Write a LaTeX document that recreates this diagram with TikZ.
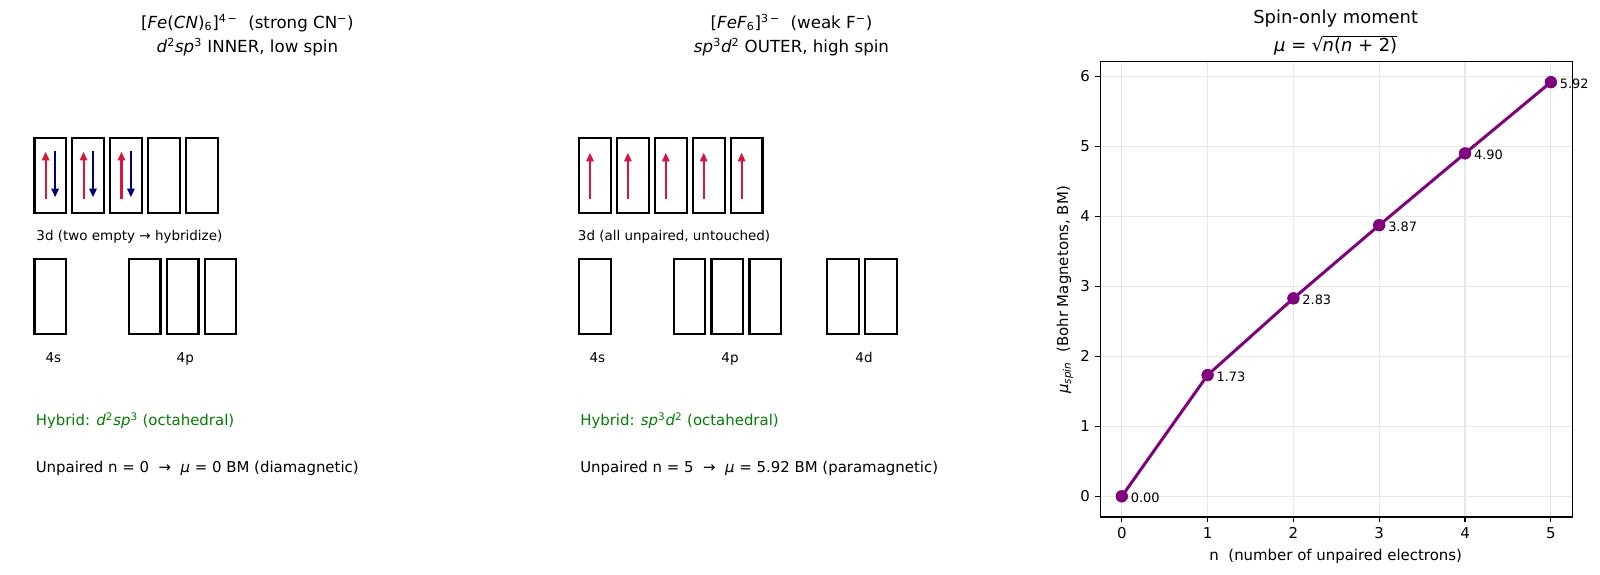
\documentclass[tikz,border=0pt]{standalone}
\usepackage{fontspec}
\setmainfont{DejaVu Sans}
\usetikzlibrary{arrows.meta, positioning, calc}
\definecolor{upred}{RGB}{220,20,60}
\definecolor{downblue}{RGB}{0,0,128}
\definecolor{hybgreen}{RGB}{0,128,0}
\definecolor{momcol}{RGB}{128,0,128}
\definecolor{gridcol}{RGB}{231,231,231}
\newcommand{\vv}[1]{\textit{#1}}

\begin{document}
\begin{tikzpicture}[x=0.72pt, y=-0.72pt, >={Triangle[length=6.3pt, width=5.3pt]},
  orb/.style={draw, line width=1.6pt, inner sep=0pt, minimum width=22.8pt, minimum height=54pt},
  spinup/.style={->, upred, line width=1.5pt},
  spindn/.style={->, downblue, line width=1.5pt},
  ttl/.style={anchor=base, inner sep=0pt, font=\fontsize{12}{14}\selectfont},
  bigttl/.style={ttl, font=\fontsize{12.9}{14}\selectfont},
  sub/.style={anchor=base, inner sep=0pt, font=\fontsize{9.7}{11}\selectfont},
  info/.style={anchor=base west, inner sep=0pt, font=\fontsize{10.75}{12}\selectfont},
  tick/.style={inner sep=0pt, font=\fontsize{10.75}{12}\selectfont},
  val/.style={anchor=base west, inner sep=0pt, font=\fontsize{9.3}{11}\selectfont},
  dot/.style={circle, fill=momcol, inner sep=0pt, minimum size=8.7pt}]
  \useasboundingbox (0,0) rectangle (1600,574);

  % left panel: low spin
  \node[ttl] (lt1) at (247.4,28.3) {[\vv{Fe}(\vv{CN})\textsubscript{6}]\textsuperscript{4\,−}\ \ (strong CN\textsuperscript{−})};
  \node[ttl] (lt2) at (247.4,52.7) {\vv{d}\textsuperscript{2}\vv{sp}\textsuperscript{3} INNER, low spin};
  \foreach \i in {0,...,4} {
    \node[orb] (ld\i) at (50.25+37.9*\i,175.2) {};
  }
  \foreach \i in {0,1,2} {
    \coordinate (lu\i) at ([xshift=-3.3pt, yshift=-17.1pt]ld\i.center);
    \coordinate (lv\i) at ([xshift=-3.3pt, yshift=16.9pt]ld\i.center);
    \coordinate (lw\i) at ([xshift=3.5pt, yshift=17.6pt]ld\i.center);
    \coordinate (lx\i) at ([xshift=3.5pt, yshift=-15.9pt]ld\i.center);
    \draw[spinup] (lu\i) -- (lv\i);
    \draw[spindn] (lw\i) -- (lx\i);
  }
  \node[sub, anchor=base west] (l3d) at (36.2,240.7) {3d (two empty → hybridize)};
  \node[orb] (ls) at (50.25,296.7) {};
  \foreach \i in {0,1,2} {
    \node[orb] (lp\i) at (144.7+37.9*\i,296.7) {};
  }
  \node[sub] (l4s) at (53.4,362.3) {4s};
  \node[sub] (l4p) at (185.3,362.3) {4p};
  \node[info, text=hybgreen] (lhyb) at (35.5,425.7) {Hybrid: \vv{d}\textsuperscript{2}\vv{sp}\textsuperscript{3} (octahedral)};
  \node[info] (lmu) at (35.5,472.3) {Unpaired n = 0 \ → \ \vv{μ} = 0 BM (diamagnetic)};

  % middle panel: high spin
  \node[ttl] (rt1) at (791.5,28.3) {[\vv{FeF}\textsubscript{6}]\textsuperscript{3\,−}\ \ (weak F\textsuperscript{−})};
  \node[ttl] (rt2) at (791.5,52.7) {\vv{sp}\textsuperscript{3}\vv{d}\textsuperscript{2} OUTER, high spin};
  \foreach \i in {0,...,4} {
    \node[orb] (rd\i) at (595.15+37.9*\i,175.2) {};
    \coordinate (ru\i) at ([xshift=-3.7pt, yshift=-17.1pt]rd\i.center);
    \coordinate (rv\i) at ([xshift=-3.7pt, yshift=16.2pt]rd\i.center);
    \draw[spinup] (ru\i) -- (rv\i);
  }
  \node[sub, anchor=base west] (r3d) at (577.7,240.7) {3d (all unpaired, untouched)};
  \node[orb] (rs) at (595.15,296.7) {};
  \foreach \i in {0,1,2} {
    \node[orb] (rp\i) at (689.5+37.9*\i,296.7) {};
  }
  \foreach \i in {0,1} {
    \node[orb] (rq\i) at (843+37.9*\i,296.7) {};
  }
  \node[sub] (r4s) at (597.3,362.3) {4s};
  \node[sub] (r4p) at (730,362.3) {4p};
  \node[sub] (r4d) at (864,362.3) {4d};
  \node[info, text=hybgreen] (rhyb) at (580,425.7) {Hybrid: \vv{sp}\textsuperscript{3}\vv{d}\textsuperscript{2} (octahedral)};
  \node[info] (rmu) at (580,472.3) {Unpaired n = 5 \ → \ \vv{μ} = 5.92 BM (paramagnetic)};

  % right panel: spin-only moment
  \node[bigttl] (pt1) at (1335.7,23.5) {Spin-only moment};
  \node[bigttl] (pt2) at (1335.7,51.7) {\vv{μ} = √\kern-0.5pt$\overline{\hbox{\vv{n}(\vv{n} + 2)}}$};
  \begin{scope}[shift={(1121.8,496.3)}, x=61.78pt, y=50.4pt]
    \draw[gridcol, line width=0.86pt] \foreach \n in {0,...,5} {(\n,-0.296) -- (\n,6.212)};
    \draw[gridcol, line width=0.86pt] \foreach \v in {0,...,6} {(-0.25,\v) -- (5.25,\v)};
    \draw[line width=0.86pt] (-0.25,-0.296) rectangle (5.25,6.212);
    \foreach \n in {0,...,5} {
      \draw[line width=0.86pt] (\n,-0.296) -- ++(0,-3.8pt);
      \node[tick, anchor=base] (xt\n) at ([yshift=-30.7pt]\n,0) {\n};
    }
    \foreach \v in {0,...,6} {
      \draw[line width=0.86pt] (-0.25,\v) -- ++(-3.8pt,0);
      \node[tick, anchor=east] (yt\v) at ([xshift=-7.3pt]-0.25,\v) {\v};
    }
    \foreach \n/\m in {0/0.00, 1/1.732, 2/2.828, 3/3.873, 4/4.899, 5/5.916} {
      \node[dot] (p\n) at (\n,\m) {};
    }
    \draw[momcol, line width=2.15pt, line join=round] (p0.center) -- (p1.center) -- (p2.center) -- (p3.center) -- (p4.center) -- (p5.center);
    \foreach \n in {0,...,5} {
      \node[dot] at (p\n) {};
    }
    \foreach \n/\lab in {0/0.00, 1/1.73, 2/2.83, 3/3.87, 4/4.90, 5/5.92} {
      \node[val] (v\n) at ([xshift=6.3pt, yshift=-4.3pt]p\n.center) {\lab};
    }
  \end{scope}
  \node[tick, anchor=base] (xlab) at (1335.7,560.5) {n\ \ (number of unpaired electrons)};
  \node[tick, rotate=90] (ylab) at (1065,290) {\vv{μ}\textsubscript{\vv{spin}}\ \ (Bohr Magnetons, BM)};
\end{tikzpicture}
\end{document}
